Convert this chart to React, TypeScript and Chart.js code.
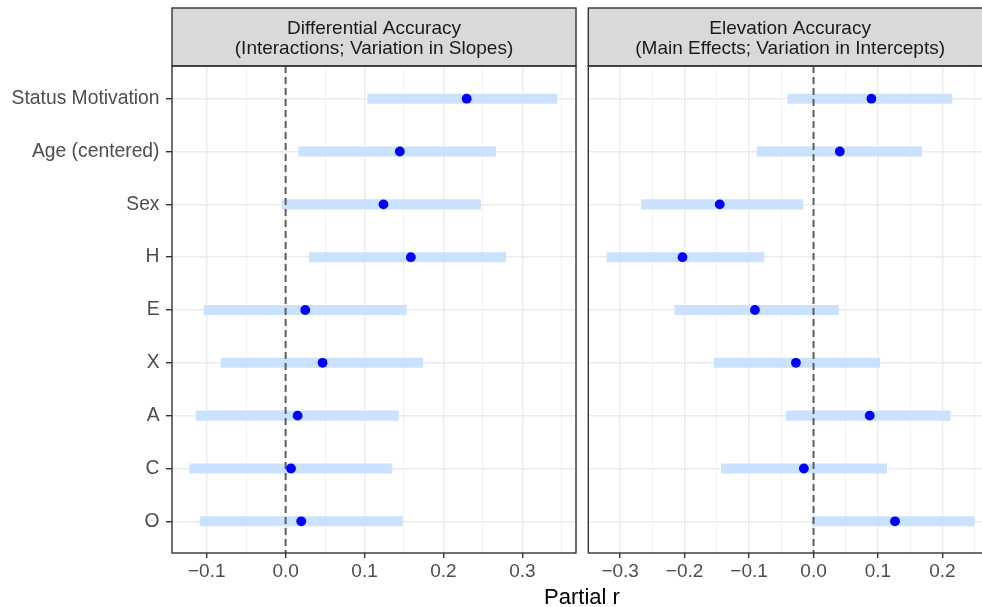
import React, { useEffect, useRef } from 'react';
import { Chart, registerables } from 'chart.js';

Chart.register(...registerables);

const FONT = "'Liberation Sans', Arial, Helvetica, sans-serif";

// ---------- data ----------
const categories = ['Status Motivation', 'Age (centered)', 'Sex', 'H', 'E', 'X', 'A', 'C', 'O'];

const diffEstimate = [0.2295, 0.1447, 0.124, 0.1587, 0.0249, 0.0468, 0.0152, 0.0068, 0.0198];
const diffLower = [0.104, 0.0165, -0.0046, 0.03, -0.1034, -0.0819, -0.1135, -0.1215, -0.1084];
const diffUpper = [0.344, 0.266, 0.247, 0.279, 0.153, 0.1738, 0.143, 0.1346, 0.148];

const elevEstimate = [0.0898, 0.0408, -0.1455, -0.2033, -0.0908, -0.0273, 0.0872, -0.015, 0.1264];
const elevLower = [-0.0397, -0.0877, -0.2668, -0.3204, -0.2152, -0.1543, -0.0423, -0.1429, -0.002];
const elevUpper = [0.2147, 0.1677, -0.0165, -0.0769, 0.0387, 0.1027, 0.2121, 0.1135, 0.249];

const diffMajorTicks = [-0.1, 0, 0.1, 0.2, 0.3];
const diffMajorLabels = ['\u22120.1', '0.0', '0.1', '0.2', '0.3'];
const diffMinorTicks = [-0.05, 0.05, 0.15, 0.25, 0.35];

const elevMajorTicks = [-0.3, -0.2, -0.1, 0, 0.1, 0.2];
const elevMajorLabels = ['\u22120.3', '\u22120.2', '\u22120.1', '0.0', '0.1', '0.2'];
const elevMinorTicks = [-0.25, -0.15, -0.05, 0.05, 0.15, 0.25];

const diffStrip = ['Differential Accuracy', '(Interactions; Variation in Slopes)'];
const elevStrip = ['Elevation Accuracy', '(Main Effects; Variation in Intercepts)'];

const xTitle = 'Partial r';

// ---------- styling ----------
const GRID = '#EBEBEB';
const DARK = '#333333';
const BAR = '#CAE1FF';
const POINT = '#0000FF';
const STRIP_TOP = 8;
const STRIP_BOTTOM = 66;

type PanelCfg = {
  lower: number[];
  upper: number[];
  estimate: number[];
  xMin: number;
  xMax: number;
  majors: number[];
  majorLabels: string[];
  minors: number[];
  showY: boolean;
  yWidth: number;
  padLeft: number;
  padRight: number;
  strip: string[];
};

const panelPlugin = {
  id: 'panelDeco',
  beforeDraw(chart: any) {
    const { ctx, chartArea } = chart;
    ctx.save();
    ctx.fillStyle = '#D9D9D9';
    ctx.fillRect(chartArea.left, STRIP_TOP, chartArea.right - chartArea.left, STRIP_BOTTOM - STRIP_TOP);
    ctx.strokeStyle = DARK;
    ctx.lineWidth = 1.4;
    ctx.strokeRect(chartArea.left, STRIP_TOP, chartArea.right - chartArea.left, STRIP_BOTTOM - STRIP_TOP);
    ctx.restore();
  },
  afterDatasetDraw(chart: any, args: any) {
    if (args.meta.type !== 'bar') return;
    const { ctx, chartArea, scales } = chart;
    const x0 = scales.x.getPixelForValue(0);
    ctx.save();
    ctx.strokeStyle = '#5F5F5F';
    ctx.lineWidth = 2;
    ctx.setLineDash([7, 4]);
    ctx.beginPath();
    ctx.moveTo(x0, STRIP_BOTTOM);
    ctx.lineTo(x0, chartArea.bottom);
    ctx.stroke();
    ctx.restore();
  },
  afterDraw(chart: any) {
    const { ctx, chartArea } = chart;
    ctx.save();
    ctx.strokeStyle = DARK;
    ctx.lineWidth = 1.4;
    ctx.strokeRect(chartArea.left, STRIP_BOTTOM, chartArea.right - chartArea.left, chartArea.bottom - STRIP_BOTTOM);
    ctx.restore();
  },
};

function makeChart(canvas: HTMLCanvasElement, p: PanelCfg) {
  const isMajor = (v: number) => p.majors.some((m) => Math.abs(m - v) < 1e-9);
  const allTicks = [...p.majors, ...p.minors].sort((a, b) => a - b);
  return new Chart(canvas, {
    type: 'bar',
    data: {
      datasets: [
        {
          type: 'scatter',
          data: categories.map((_, i) => ({ x: p.estimate[i], y: i + 1 })),
          backgroundColor: POINT,
          borderColor: POINT,
          borderWidth: 0,
          pointRadius: 4.9,
          order: 0,
        } as any,
        {
          type: 'bar',
          indexAxis: 'y',
          data: categories.map((_, i) => ({ x: [p.lower[i], p.upper[i]], y: i + 1 })),
          backgroundColor: BAR,
          borderWidth: 0,
          barThickness: 9.4,
          order: 1,
        } as any,
      ],
    },
    options: {
      animation: false,
      responsive: false,
      devicePixelRatio: 1,
      events: [],
      layout: { autoPadding: false, padding: { top: 0, left: p.padLeft, right: p.padRight, bottom: 0 } },
      plugins: {
        legend: { display: false },
        tooltip: { enabled: false },
        title: {
          display: true,
          fullSize: false,
          text: p.strip,
          color: '#1A1A1A',
          font: { family: FONT, size: 19, weight: 'normal', lineHeight: 19.7 / 19 },
          padding: { top: 19, bottom: 8.6 },
        },
      },
      scales: {
        x: {
          type: 'linear',
          position: 'bottom',
          offset: false,
          beginAtZero: false,
          grace: 0,
          min: p.xMin,
          max: p.xMax,
          afterBuildTicks: (s: any) => {
            s.ticks = allTicks.map((v) => ({ value: v }));
          },
          afterFit: (s: any) => {
            s.height = 607 - 553;
            s.paddingLeft = 0;
            s.paddingRight = 0;
          },
          border: { display: false },
          grid: {
            offset: false,
            color: GRID,
            lineWidth: (c: any) => (c.tick && isMajor(c.tick.value) ? 1.4 : 0.7),
            tickColor: (c: any) => (c.tick && isMajor(c.tick.value) ? DARK : 'rgba(0,0,0,0)'),
            tickWidth: 1.4,
            tickLength: 5,
            drawTicks: true,
          },
          ticks: {
            autoSkip: false,
            maxRotation: 0,
            padding: 2.4,
            color: '#4D4D4D',
            font: { family: FONT, size: 19 },
            callback: (v: any) => {
              const idx = p.majors.findIndex((m) => Math.abs(m - Number(v)) < 1e-9);
              return idx >= 0 ? p.majorLabels[idx] : '';
            },
          },
        },
        y: {
          type: 'linear',
          position: 'left',
          offset: false,
          beginAtZero: false,
          grace: 0,
          reverse: true,
          min: 0.4,
          max: 9.6,
          afterBuildTicks: (s: any) => {
            s.ticks = categories.map((_, i) => ({ value: i + 1 }));
          },
          afterFit: (s: any) => {
            s.width = p.yWidth;
            s.paddingTop = 0;
            s.paddingBottom = 0;
          },
          border: { display: false },
          grid: {
            offset: false,
            color: GRID,
            lineWidth: 1.4,
            drawTicks: p.showY,
            tickLength: 6,
            tickColor: DARK,
            tickWidth: 1.4,
          },
          ticks: {
            display: p.showY,
            autoSkip: false,
            padding: 6.5,
            color: '#4D4D4D',
            font: { family: FONT, size: 19.3 },
            callback: (v: any) => categories[Math.round(Number(v)) - 1] ?? '',
          },
        },
      },
    } as any,
    plugins: [panelPlugin],
  });
}

export default function App() {
  const leftRef = useRef<HTMLCanvasElement>(null);
  const rightRef = useRef<HTMLCanvasElement>(null);

  useEffect(() => {
    Chart.defaults.font.family = FONT;
    const left = makeChart(leftRef.current!, {
      lower: diffLower,
      upper: diffUpper,
      estimate: diffEstimate,
      xMin: -0.144,
      xMax: 0.368,
      majors: diffMajorTicks,
      majorLabels: diffMajorLabels,
      minors: diffMinorTicks,
      showY: true,
      yWidth: 172,
      padLeft: 0,
      padRight: 4,
      strip: diffStrip,
    });
    const right = makeChart(rightRef.current!, {
      lower: elevLower,
      upper: elevUpper,
      estimate: elevEstimate,
      xMin: -0.3494,
      xMax: 0.2769,
      majors: elevMajorTicks,
      majorLabels: elevMajorLabels,
      minors: elevMinorTicks,
      showY: false,
      yWidth: 0,
      padLeft: 8.3,
      padRight: 0,
      strip: elevStrip,
    });
    return () => {
      left.destroy();
      right.destroy();
    };
  }, []);

  return (
    <div
      style={{
        position: 'absolute',
        left: 0,
        top: 0,
        width: 982,
        height: 607,
        overflow: 'hidden',
        background: '#ffffff',
      }}
    >
      <canvas
        ref={leftRef}
        width={580}
        height={607}
        style={{ position: 'absolute', left: 0, top: 0, width: 580, height: 607 }}
      />
      <canvas
        ref={rightRef}
        width={412}
        height={607}
        style={{ position: 'absolute', left: 580, top: 0, width: 412, height: 607 }}
      />
      <div
        style={{
          position: 'absolute',
          left: 482,
          top: 586,
          width: 200,
          textAlign: 'center',
          fontFamily: FONT,
          fontSize: 22,
          lineHeight: '22px',
          color: '#000000',
        }}
      >
        {xTitle}
      </div>
    </div>
  );
}
